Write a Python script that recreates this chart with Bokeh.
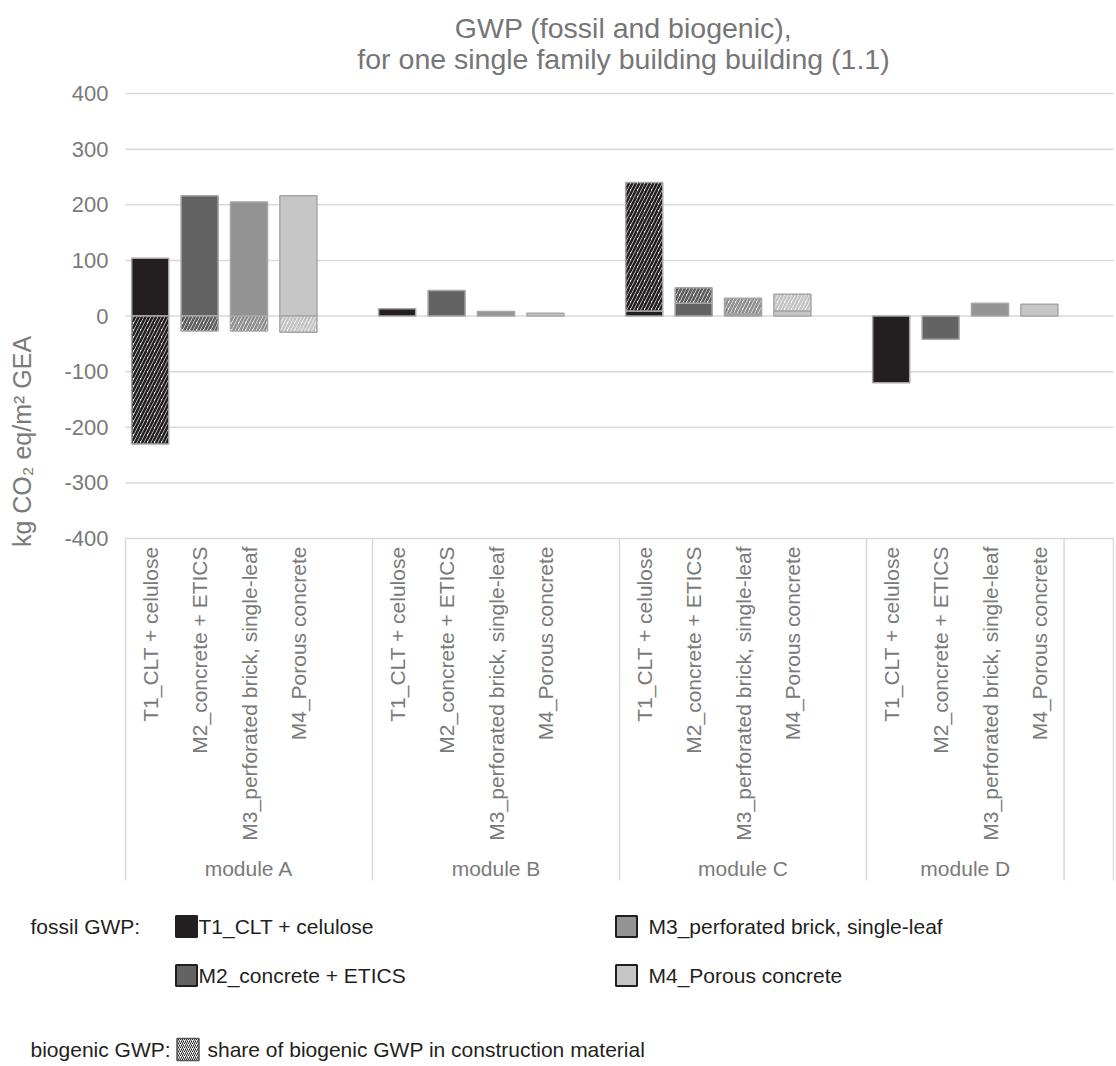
import math
from bokeh.plotting import figure
from bokeh.models import Range1d, ColumnDataSource
from bokeh.embed import file_html
from bokeh.resources import INLINE
from bokeh.core.properties import value

# ---------------- data ----------------
modules = ["module A", "module B", "module C", "module D"]
variants = ["T1_CLT + celulose", "M2_concrete + ETICS",
            "M3_perforated brick, single-leaf", "M4_Porous concrete"]
fossil_A = [104, 216, 205, 216]
bio_A = [-230, -27, -27, -29]
fossil_B = [13, 46, 8, 5]
bio_B = [0, 0, 0, 0]
fossil_C = [9, 23, 4, 9]
bio_C = [231, 28, 28, 30]
fossil_D = [-120, -42, 23, 21]
bio_D = [0, 0, 0, 0]
y_ticks = [-400, -300, -200, -100, 0, 100, 200, 300, 400]
y_tick_labels = [str(t) for t in y_ticks]

fossil = [fossil_A, fossil_B, fossil_C, fossil_D]
bio = [bio_A, bio_B, bio_C, bio_D]

# ---------------- styles ----------------
FONT = value("Liberation Sans")
GRAY_TXT = "#7a7a7a"
GRID = "#d9d9d9"
colors = ["#231f20", "#636363", "#939393", "#c6c6c6"]
hatch_colors = ["#231f20", "#5c5c5c", "#8e8e8e", "#c4c4c4"]
bar_outline = "#a6a6a6"

W, H = 1114, 1064

# slot layout: each module gets one slot per variant + a gap slot; the last has no gap,
# followed by one empty trailing category
group_sizes = [len(variants) + 1] * (len(modules) - 1) + [len(variants), 1]
bounds = [0]
for s in group_sizes:
    bounds.append(bounds[-1] + s)
n_slots = bounds[-1]

# pixel <-> data helpers (layout only)
PLOT_L, PLOT_R = 125, 1113
SLOT_PX = (PLOT_R - PLOT_L) / n_slots
PXU = (538 - 93) / 800.0
def x_at(px):
    return (px - PLOT_L) / SLOT_PX
def y_at(py):
    return 400 - (py - 93) / PXU

p = figure(width=W, height=H, output_backend="svg", toolbar_location=None,
           x_range=Range1d(x_at(0), x_at(W)), y_range=Range1d(y_at(H), y_at(0)),
           x_axis_type=None, y_axis_type=None, min_border=0)
p.outline_line_color = None
p.xgrid.visible = False
p.ygrid.visible = False

# gridlines
p.segment(x0=[0] * len(y_ticks), x1=[n_slots] * len(y_ticks), y0=y_ticks, y1=y_ticks,
          line_color=GRID, line_width=1.5)
# category separators
p.segment(x0=bounds, x1=bounds, y0=[y_ticks[0]] * len(bounds),
          y1=[y_at(880)] * len(bounds), line_color=GRID, line_width=1.5)

# y tick labels
p.text(x=[x_at(108)] * len(y_ticks), y=y_ticks, text=y_tick_labels,
       text_align="right", text_baseline="middle", text_font=FONT,
       text_font_size="22px", text_color=GRAY_TXT)
# y axis title
p.text(x=[x_at(21)], y=[y_at(441)], text=["kg CO\u2082 eq/m\u00b2 GEA"], angle=math.pi / 2,
       text_align="center", text_baseline="middle", text_font=FONT,
       text_font_size="25px", text_color=GRAY_TXT)

# bars
fx, ftop, fcol = [], [], []
bx, bbot, btop, bcol = [], [], [], []
lab_x, lab_t = [], []
for gi, m in enumerate(modules):
    for vi, v in enumerate(variants):
        x = bounds[gi] + vi + 0.5
        f = fossil[gi][vi]
        b = bio[gi][vi]
        fx.append(x); ftop.append(f); fcol.append(colors[vi])
        lab_x.append(x); lab_t.append(v)
        if b != 0:
            bottom = f if f * b > 0 else 0
            bx.append(x); bbot.append(bottom); btop.append(bottom + b)
            bcol.append(hatch_colors[vi])

p.vbar(x="x", top="top", bottom=0, width=0.75,
       source=ColumnDataSource(dict(x=fx, top=ftop, c=fcol)),
       fill_color="c", line_color=bar_outline, line_width=1.5)
p.vbar(x="x", top="top", bottom="bottom", width=0.75,
       source=ColumnDataSource(dict(x=bx, top=btop, bottom=bbot, c=bcol)),
       fill_color="white", line_color=bar_outline, line_width=1.5,
       hatch_pattern="/", hatch_color="c", hatch_scale=7, hatch_weight=2.6)

# category labels (rotated)
p.text(x=lab_x, y=[y_at(546)] * len(lab_x), text=lab_t, angle=math.pi / 2,
       text_align="right", text_baseline="middle", text_font=FONT,
       text_font_size="21px", text_color=GRAY_TXT)
mod_x = [(bounds[i] + bounds[i + 1]) / 2 for i in range(len(modules))]
p.text(x=mod_x, y=[y_at(868)] * len(mod_x), text=modules,
       text_align="center", text_baseline="middle", text_font=FONT,
       text_font_size="21px", text_color=GRAY_TXT)

# title
p.text(x=[x_at(623)] * 2, y=[y_at(27), y_at(58)],
       text=["GWP (fossil and biogenic),", "for one single family building building (1.1)"],
       text_align="center", text_baseline="middle", text_font=FONT,
       text_font_size="28.5px", text_color="#767676")

# ---------------- legend ----------------
row1, row2, row3 = y_at(926), y_at(975), y_at(1049)
p.rect(x=[x_at(186), x_at(186), x_at(626), x_at(626)], y=[row1, row2, row1, row2],
       width=21, height=21, width_units="screen", height_units="screen",
       fill_color=colors, line_color="#231f20", line_width=2)
p.text(x=[x_at(198), x_at(198), x_at(648), x_at(648)], y=[row1, row2, row1, row2],
       text=variants, text_align="left", text_baseline="middle",
       text_font=FONT, text_font_size="21px", text_color="#231f20")
p.text(x=[x_at(30), x_at(30)], y=[row1, row3], text=["fossil GWP:", "biogenic GWP:"],
       text_align="left", text_baseline="middle",
       text_font=FONT, text_font_size="21px", text_color="#231f20")
p.rect(x=[x_at(187.5)], y=[row3], width=22, height=22,
       width_units="screen", height_units="screen", fill_color="white",
       line_color="#555555", line_width=1.5,
       hatch_pattern="/", hatch_color="#231f20", hatch_scale=4, hatch_weight=1)
p.text(x=[x_at(207)], y=[row3], text=["share of biogenic GWP in construction material"],
       text_align="left", text_baseline="middle",
       text_font=FONT, text_font_size="21px", text_color="#231f20")

open("out.html", "w").write(file_html(p, INLINE))
